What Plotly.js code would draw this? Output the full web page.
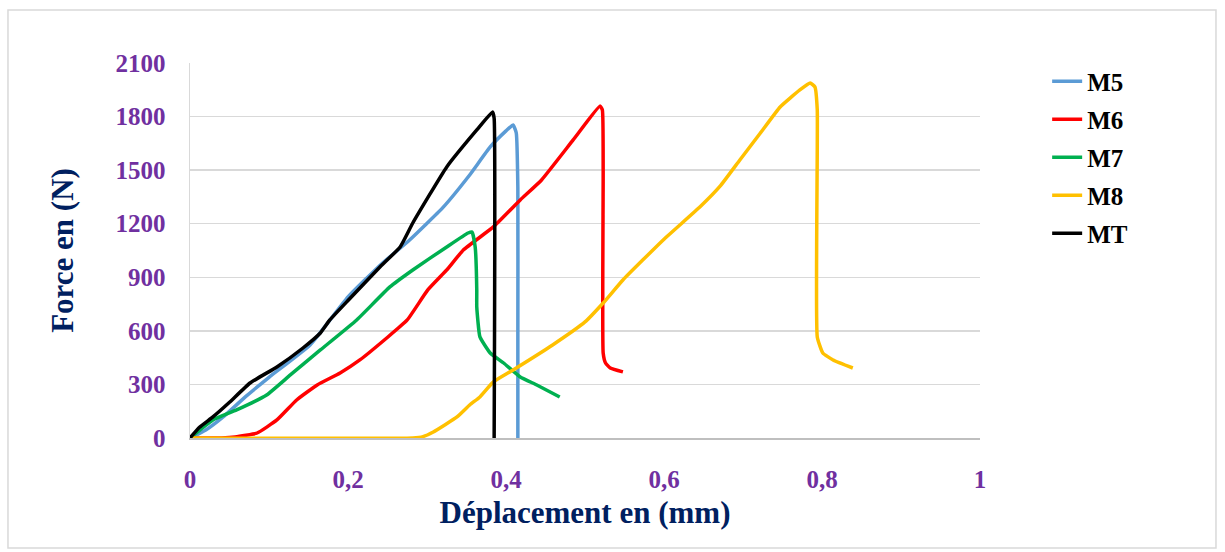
<!DOCTYPE html>
<html>
<head>
<meta charset="utf-8">
<script src="https://cdn.plot.ly/plotly-3.0.1.min.js"></script>
<style>html,body{margin:0;padding:0;background:#fff;}#chart{width:1225px;height:552px;}</style>
</head>
<body>
<div id="chart"></div>
<script>
// Series data (Déplacement in mm, Force in N)
const m5X = [0, 0.02, 0.042, 0.07, 0.1, 0.152, 0.2, 0.241, 0.278, 0.32, 0.354, 0.38, 0.4, 0.409, 0.413, 0.415, 0.415, 0.415];
const m5Y = [0, 45, 118, 230, 340, 521, 790, 969, 1109, 1290, 1473, 1630, 1720, 1753, 1708, 1400, 600, 0];

const m6X = [0, 0.04, 0.057, 0.085, 0.11, 0.135, 0.161, 0.19, 0.215, 0.249, 0.275, 0.301, 0.325, 0.346, 0.384, 0.418, 0.445, 0.485, 0.519, 0.522, 0.523, 0.523, 0.526, 0.532, 0.548];
const m6Y = [0, 0, 5, 28, 101, 213, 297, 364, 437, 560, 661, 829, 941, 1053, 1182, 1333, 1445, 1669, 1859, 1837, 1500, 476, 420, 392, 370];

const m7X = [0, 0.029, 0.059, 0.097, 0.127, 0.165, 0.211, 0.253, 0.282, 0.325, 0.352, 0.357, 0.361, 0.363, 0.363, 0.367, 0.38, 0.397, 0.418, 0.439, 0.468];
const m7Y = [0, 101, 157, 241, 353, 493, 661, 846, 941, 1070, 1148, 1154, 1070, 829, 734, 566, 476, 420, 342, 297, 230];

const m8X = [0, 0.282, 0.295, 0.308, 0.338, 0.354, 0.367, 0.384, 0.409, 0.459, 0.5, 0.523, 0.548, 0.599, 0.646, 0.671, 0.696, 0.722, 0.747, 0.772, 0.785, 0.791, 0.794, 0.794, 0.801, 0.814, 0.839];
const m8Y = [0, 0, 8, 34, 118, 185, 230, 314, 381, 521, 650, 756, 885, 1109, 1296, 1410, 1557, 1708, 1854, 1949, 1988, 1966, 1837, 566, 476, 437, 392];

const mtX = [0, 0.012, 0.029, 0.05, 0.076, 0.11, 0.143, 0.165, 0.177, 0.2, 0.241, 0.266, 0.282, 0.325, 0.363, 0.383, 0.385, 0.385];
const mtY = [0, 60, 118, 200, 308, 398, 504, 588, 661, 770, 960, 1070, 1204, 1518, 1725, 1826, 1790, 0];

const seriesNames = ["M5", "M6", "M7", "M8", "MT"];
const seriesColors = ["#5B9BD5", "#FF0000", "#00B050", "#FFC000", "#000000"];

const xTickVals = [0, 0.2, 0.4, 0.6, 0.8, 1];
const xTickText = ["0", "0,2", "0,4", "0,6", "0,8", "1"];
const yTickVals = [0, 300, 600, 900, 1200, 1500, 1800, 2100];
const yTickText = ["0", "300", "600", "900", "1200", "1500", "1800", "2100"];

const xs = [m5X, m6X, m7X, m8X, mtX];
const ys = [m5Y, m6Y, m7Y, m8Y, mtY];

const traces = seriesNames.map((n, i) => ({
  type: "scatter", mode: "lines", name: n, legendgroup: n,
  x: xs[i], y: ys[i],
  line: {color: seriesColors[i], width: 3.5, shape: "spline", smoothing: 0.4}
}));

const serif = "Liberation Serif, Times New Roman, serif";

const layout = {
  width: 1225, height: 552,
  margin: {l: 190, r: 245, t: 63, b: 114},
  paper_bgcolor: "#fff", plot_bgcolor: "#fff",
  showlegend: true,
  legend: {
    x: 1.085, y: 1.012, xanchor: "left", yanchor: "top",
    traceorder: "grouped", tracegroupgap: 2.5,
    font: {family: serif, size: 25, color: "#000", weight: "bold"},
    bgcolor: "rgba(0,0,0,0)", borderwidth: 0
  },
  xaxis: {
    range: [0, 1], tickvals: xTickVals, ticktext: xTickText,
    showgrid: false, zeroline: false, showline: true, linecolor: "#BFBFBF", linewidth: 1.5,
    ticks: "", ticklabelstandoff: 18,
    tickfont: {family: serif, size: 25, color: "#7030A0", weight: "bold"},
    title: {text: "Déplacement en (mm)", font: {family: serif, size: 31, color: "#002060", weight: "bold"}, standoff: 10}
  },
  yaxis: {
    range: [0, 2100], tickvals: yTickVals, ticktext: yTickText,
    showgrid: true, gridcolor: "#D9D9D9", gridwidth: 1.5,
    zeroline: false, showline: true, linecolor: "#D9D9D9", linewidth: 1.5,
    ticks: "", ticklabelstandoff: 18,
    tickfont: {family: serif, size: 25, color: "#7030A0", weight: "bold"},
    title: {text: "Force en (N)", font: {family: serif, size: 31, color: "#002060", weight: "bold"}, standoff: 32}
  },
  shapes: [{
    type: "rect", xref: "paper", yref: "paper",
    x0: -0.2304, x1: 1.2987, y0: -0.2933, y1: 1.1413,
    line: {color: "#D9D9D9", width: 1.5}, fillcolor: "rgba(0,0,0,0)", layer: "below"
  }]
};

Plotly.newPlot("chart", traces, layout, {displayModeBar: false, staticPlot: true});
</script>
</body>
</html>
